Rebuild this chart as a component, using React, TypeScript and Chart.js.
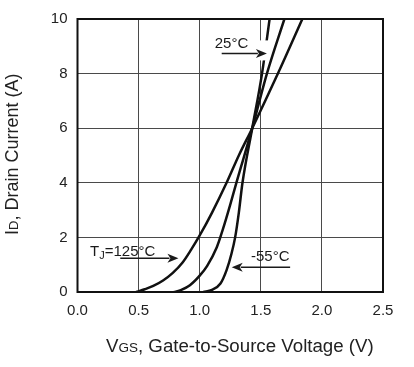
import React, { useEffect, useRef } from "react";
import Chart from "chart.js/auto";

// ---- data ----
const xTickValues = [0, 0.5, 1.0, 1.5, 2.0, 2.5];
const yTickValues = [0, 2, 4, 6, 8, 10];

const vgsT125 = [0.48, 0.55, 0.62, 0.7, 0.78, 0.86, 0.93, 1.0, 1.1, 1.22, 1.32, 1.43, 1.64, 1.84];
const idT125 = [0, 0.1, 0.22, 0.42, 0.7, 1.08, 1.55, 2.07, 2.9, 4.0, 5.0, 6.0, 8.0, 10.0];

const vgsT25 = [0.79, 0.85, 0.92, 1.0, 1.06, 1.14, 1.19, 1.25, 1.3, 1.43, 1.55, 1.693];
const idT25 = [0, 0.08, 0.25, 0.6, 0.95, 1.64, 2.3, 3.2, 4.0, 6.0, 8.0, 10.0];

const vgsTm55 = [1.03, 1.1, 1.17, 1.22, 1.26, 1.29, 1.32, 1.35, 1.43, 1.51, 1.572];
const idTm55 = [0, 0.08, 0.31, 0.8, 1.4, 2.0, 2.9, 4.0, 6.0, 8.0, 10.0];

const labelTexts = ["25°C", "-55°C", "=125°C"];
// arrow annotations in data units: [xFrom, xTo, y]
const arrow25 = [1.18, 1.55, 8.74];
const arrow125 = [0.35, 0.826, 1.24];
const arrowM55 = [1.74, 1.262, 0.91];

const FONT = "'Liberation Sans', Arial, sans-serif";

function drawRuns(ctx: CanvasRenderingContext2D, runs: { t: string; s: number; dy?: number }[], x: number, y: number) {
  let cx = x;
  for (const r of runs) {
    ctx.font = `${r.s}px ${FONT}`;
    ctx.fillText(r.t, cx, y + (r.dy || 0));
    cx += ctx.measureText(r.t).width;
  }
}

function drawArrow(ctx: CanvasRenderingContext2D, x1: number, x2: number, y: number) {
  const dir = Math.sign(x2 - x1);
  const head = 11;
  ctx.beginPath();
  ctx.moveTo(x1, y);
  ctx.lineTo(x2 - dir * head + dir * 2, y);
  ctx.lineWidth = 1.5;
  ctx.strokeStyle = "#1a1a1a";
  ctx.stroke();
  ctx.beginPath();
  ctx.moveTo(x2, y);
  ctx.lineTo(x2 - dir * head, y - 4.5);
  ctx.lineTo(x2 - dir * head + dir * 3, y);
  ctx.lineTo(x2 - dir * head, y + 4.5);
  ctx.closePath();
  ctx.fillStyle = "#1a1a1a";
  ctx.fill();
}

const decorPlugin = {
  id: "decor",
  afterDatasetsDraw(chart: any) {
    const ctx = chart.ctx as CanvasRenderingContext2D;
    const xs = chart.scales.x;
    const ys = chart.scales.y;
    const a = chart.chartArea;
    ctx.save();
    // frame
    ctx.strokeStyle = "#111";
    ctx.lineWidth = 2;
    ctx.strokeRect(a.left, a.top, a.right - a.left, a.bottom - a.top);

    // white gap behind 25C arrow tip
    const tipX = xs.getPixelForValue(arrow25[1]);
    const tipY = ys.getPixelForValue(arrow25[2]);
    ctx.fillStyle = "#fff";
    ctx.fillRect(tipX - 8, tipY - 13, 10, 20);

    ctx.fillStyle = "#1a1a1a";
    ctx.textBaseline = "alphabetic";
    ctx.textAlign = "left";
    // 25C
    drawArrow(ctx, xs.getPixelForValue(arrow25[0]), tipX, tipY);
    drawRuns(ctx, [{ t: labelTexts[0], s: 15 }], xs.getPixelForValue(arrow25[0]) - 7, tipY - 5);
    // 125C
    const y125 = ys.getPixelForValue(arrow125[2]);
    drawArrow(ctx, xs.getPixelForValue(arrow125[0]), xs.getPixelForValue(arrow125[1]), y125);
    ctx.fillStyle = "#1a1a1a";
    drawRuns(ctx, [{ t: "T", s: 15 }, { t: "J", s: 11, dy: 3 }, { t: labelTexts[2], s: 15 }], xs.getPixelForValue(0.1025), y125 - 2);
    // -55C
    const y55 = ys.getPixelForValue(arrowM55[2]);
    drawArrow(ctx, xs.getPixelForValue(arrowM55[0]), xs.getPixelForValue(arrowM55[1]), y55);
    ctx.fillStyle = "#1a1a1a";
    drawRuns(ctx, [{ t: labelTexts[1], s: 15 }], xs.getPixelForValue(1.42), y55 - 6);

    // axis titles
    ctx.fillStyle = "#222";
    drawRuns(ctx, [{ t: "V", s: 18.7 }, { t: "GS", s: 13.5 }, { t: ", Gate-to-Source Voltage (V)", s: 18.7 }], 106, 352);
    ctx.save();
    ctx.translate(17.5, 235);
    ctx.rotate(-Math.PI / 2);
    drawRuns(ctx, [{ t: "I", s: 18 }, { t: "D", s: 13 }, { t: ", Drain Current (A)", s: 18 }], 0, 0);
    ctx.restore();
    ctx.restore();
  },
};

function toPts(xs: number[], ys: number[]) {
  return xs.map((x, i) => ({ x, y: ys[i] }));
}

export default function App() {
  const ref = useRef<HTMLCanvasElement>(null);
  useEffect(() => {
    if (!ref.current) return;
    const common = {
      showLine: true,
      pointRadius: 0,
      borderColor: "#111",
      borderWidth: 2.5,
      cubicInterpolationMode: "monotone" as const,
      fill: false,
    };
    const chart = new Chart(ref.current, {
      type: "scatter",
      data: {
        datasets: [
          { ...common, label: "TJ=125°C", data: toPts(vgsT125, idT125) },
          { ...common, label: "25°C", data: toPts(vgsT25, idT25) },
          { ...common, label: "-55°C", data: toPts(vgsTm55, idTm55) },
        ],
      },
      options: {
        animation: false,
        responsive: false,
        layout: { padding: { left: 0, right: 31, top: 15, bottom: 0 } },
        plugins: { legend: { display: false }, tooltip: { enabled: false } },
        scales: {
          x: {
            type: "linear",
            min: 0,
            max: 2.5,
            afterFit: (s: any) => { s.height = 75; },
            afterBuildTicks: (s: any) => { s.ticks = xTickValues.map((v) => ({ value: v })); },
            ticks: {
              color: "#222",
              padding: 10,
              font: { family: FONT, size: 15 },
              callback: (v: any) => Number(v).toFixed(1),
            },
            grid: { color: "#4a4a4a", lineWidth: 1, drawTicks: false },
            border: { display: false },
          },
          y: {
            type: "linear",
            min: 0,
            max: 10,
            afterFit: (s: any) => { s.width = 77.5; },
            afterBuildTicks: (s: any) => { s.ticks = yTickValues.map((v) => ({ value: v })); },
            ticks: {
              color: "#222",
              padding: 10,
              font: { family: FONT, size: 15 },
              callback: (v: any) => String(v),
            },
            grid: { color: "#4a4a4a", lineWidth: 1, drawTicks: false },
            border: { display: false },
          },
        },
      },
      plugins: [decorPlugin],
    });
    return () => chart.destroy();
  }, []);
  return (
    <div style={{ position: "fixed", left: 0, top: 0, width: 414, height: 367, background: "#fff" }}>
      <canvas ref={ref} width={414} height={367} />
    </div>
  );
}
